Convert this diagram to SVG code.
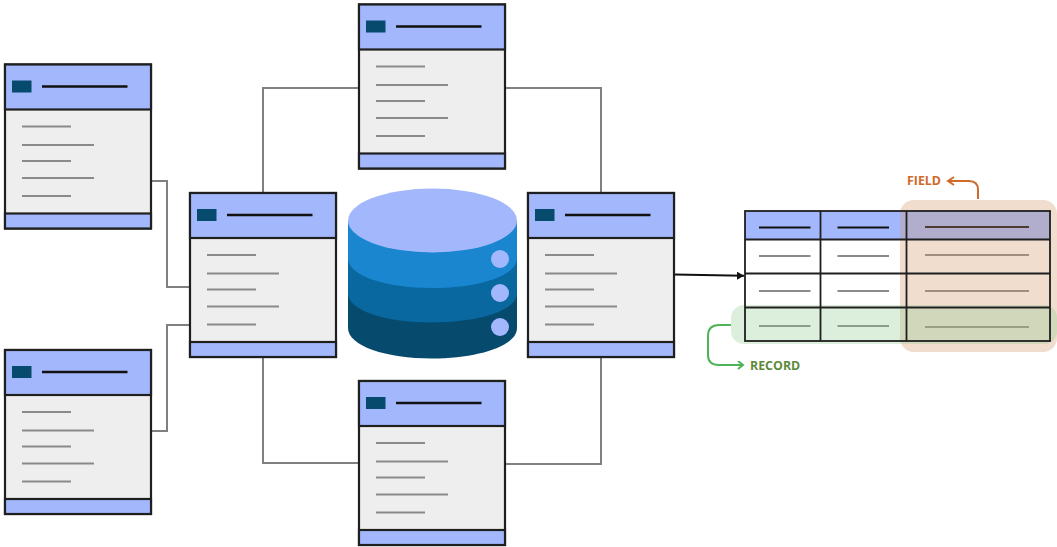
<svg xmlns="http://www.w3.org/2000/svg" width="1057" height="547" viewBox="0 0 1057 547">
<style>
.box{fill:#eeeeee;stroke:#1f1f1f;stroke-width:2.2}
.band{fill:#a3b8fc;stroke:#1f1f1f;stroke-width:2.2}
.icon{fill:#064a6e}
.title{stroke:#111;stroke-width:2.400;fill:none}
.row{stroke:#8a8a8a;stroke-width:2.200;fill:none}
.conn{stroke:#808080;stroke-width:2;fill:none}
.cell{stroke:#1f1f1f;stroke-width:1.800;fill:none}
text{font-family:"Open Sans","Liberation Sans",sans-serif;font-weight:700;font-size:12.400px}
</style>
<defs>
<g id="card">
<rect class="box" x="0" y="0" width="146" height="164"/>
<rect class="band" x="0" y="0" width="146" height="45"/>
<rect class="band" x="0" y="149" width="146" height="15"/>
<rect class="icon" x="7" y="16" width="19.500" height="12"/>
<path class="title" d="M37 22H122.500"/>
<path class="row" d="M17 62H66M17 80.500H89M17 96.500H66M17 113.500H89M17 131.500H66"/>
</g>
<marker id="ab" markerWidth="9" markerHeight="9" refX="7" refY="4" orient="auto" markerUnits="userSpaceOnUse"><path d="M0 0L7 4L0 8z" fill="#111"/></marker>
<marker id="ao" markerWidth="10" markerHeight="10" refX="7" refY="4.500" orient="auto" markerUnits="userSpaceOnUse"><path d="M1 0.500L7 4.500L1 8.500" fill="none" stroke="#cf6a2a" stroke-width="2"/></marker>
<marker id="ag" markerWidth="10" markerHeight="10" refX="7" refY="4.500" orient="auto" markerUnits="userSpaceOnUse"><path d="M2 0.500L7 4.500L2 8.500" fill="none" stroke="#4fb35a" stroke-width="2"/></marker>
</defs>
<g id="connectors">
<path class="conn" d="M151 181H167V287H190"/>
<path class="conn" d="M151 431H167V325H190"/>
<path class="conn" d="M263 193V88H359"/>
<path class="conn" d="M505 88H601V193"/>
<path class="conn" d="M263 357V463H359"/>
<path class="conn" d="M505 464H601V357"/>
<path d="M674 274.500L744 275.800" fill="none" stroke="#111" stroke-width="2" marker-end="url(#ab)"/>
</g>
<g id="card-left-top"><use href="#card" x="5" y="64.500"/></g>
<g id="card-left-bottom"><use href="#card" x="5" y="350"/></g>
<g id="card-center-left"><use href="#card" x="190" y="193"/></g>
<g id="card-top"><use href="#card" x="359" y="4.500"/></g>
<g id="card-bottom"><use href="#card" x="359" y="381"/></g>
<g id="card-center-right"><use href="#card" x="528" y="193"/></g>
<g id="database">
<path d="M348 220V328C348 346 386 358.500 432 358.500C478 358.500 517 346 517 328V220z" fill="#064a6e"/>
<path d="M348 220V293C348 311 386 322.500 432 322.500C478 322.500 517 311 517 293V220z" fill="#09689f"/>
<path d="M348 220V258C348 276 386 288 432 288C478 288 517 276 517 258V220z" fill="#1a86d0"/>
<ellipse cx="432.500" cy="220.500" rx="84.500" ry="32" fill="#a3b8fc"/>
<circle cx="500" cy="259" r="9" fill="#a3b8fc"/>
<circle cx="500" cy="293" r="9" fill="#a3b8fc"/>
<circle cx="500" cy="327" r="9" fill="#a3b8fc"/>
</g>
<g id="table">
<rect x="745" y="211" width="305" height="130" fill="#fff"/>
<rect x="745" y="211" width="305" height="29" fill="#a3b8fc"/>
<path d="M759 227.500H810.500M837.500 227.500H889M925 227H1029" stroke="#111" stroke-width="2" fill="none"/>
<path class="row" style="stroke-width:1.800" d="M759 256H810.500M837.500 256H889M925 255H1029M759 291H810.500M837.500 291H889M925 291H1029M759 326H810.500M837.500 326H889M925 327H1029"/>
</g>
<g id="field-highlight">
<rect x="900" y="200" width="157" height="152" rx="14" fill="#cf9468" fill-opacity="0.32"/>
<path d="M978 199V190Q978 181 969 181H948" fill="none" stroke="#cf6a2a" stroke-width="2" marker-end="url(#ao)"/>
<text x="907" y="185" fill="#cf6a2a">FIELD</text>
</g>
<g id="record-highlight">
<rect x="731" y="305" width="326" height="39" rx="13" fill="#8cc98c" fill-opacity="0.3"/>
<path d="M731 325H719Q708 325 708 336V355Q708 365 719 365H743" fill="none" stroke="#4fb35a" stroke-width="2" marker-end="url(#ag)"/>
<text x="750" y="370" fill="#5d8a3c">RECORD</text>
</g>
<g id="table-grid">
<rect class="cell" x="745" y="211" width="305" height="130"/>
<path class="cell" d="M745 239.500H1050M745 273.500H1050M745 307.500H1050M820.500 211V341M906.500 211V341"/>
</g>
</svg>
